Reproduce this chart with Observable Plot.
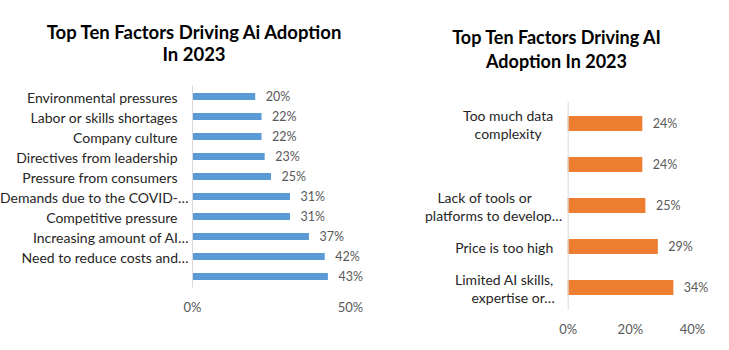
<!DOCTYPE html>
<html>
<head>
<meta charset="utf-8">
<script src="https://cdn.jsdelivr.net/npm/d3@7"></script>
<script src="https://cdn.jsdelivr.net/npm/@observablehq/plot@0.6"></script>
<style>
  html, body { margin: 0; padding: 0; background: #fff; }
  #wrap { position: relative; width: 729px; height: 350px; overflow: hidden; font-family: Lato, sans-serif; }
  .panel { position: absolute; top: 0; }
  .title { font-family: Lato, sans-serif; font-weight: bold; color: #000; text-align: center; white-space: nowrap; }
  .panel svg { display: block; }
</style>
</head>
<body>
<div id="wrap">
  <div class="panel" id="left" style="left:0;width:370px;">
    <div class="title" style="padding-top:21px;font-size:18.5px;line-height:22.3px;height:44.6px;padding-left:18px;">Top Ten Factors Driving Ai Adoption<br>In 2023</div>
  </div>
  <div class="panel" id="right" style="left:370px;width:359px;">
    <div class="title" style="padding-top:24.5px;font-size:18px;line-height:24.3px;height:48.6px;padding-left:14px;">Top Ten Factors Driving AI<br>Adoption In 2023</div>
  </div>
</div>
<script>
// ---- Data ----
const leftLabels = [
  "Environmental pressures",
  "Labor or skills shortages",
  "Company culture",
  "Directives from leadership",
  "Pressure from consumers",
  "Demands due to the COVID-…",
  "Competitive pressure",
  "Increasing amount of AI…",
  "Need to reduce costs and…",
  ""
];
const leftValues = [0.20, 0.22, 0.22, 0.23, 0.25, 0.31, 0.31, 0.37, 0.42, 0.43];
const leftTicks = [0, 0.5];

const rightLabels = [
  "Too much data\ncomplexity",
  "",
  "Lack of tools or\nplatforms to develop…",
  "Price is too high",
  "Limited AI skills,\nexpertise or…"
];
const rightValues = [0.24, 0.24, 0.25, 0.29, 0.34];
const rightTicks = [0, 0.2, 0.4];

const pct = d3.format(".0%");
const isTrunc = d => d.label.endsWith("…");

function build(labels, values, ticks, opts) {
  const data = labels.map((label, i) => ({i, label, value: values[i]}));
  return Plot.plot({
    width: opts.width,
    height: opts.height,
    marginLeft: opts.marginLeft,
    marginRight: opts.marginRight,
    marginTop: opts.marginTop,
    marginBottom: opts.marginBottom,
    style: {fontFamily: "Lato, sans-serif", fontSize: "13px", color: "#262626", background: "white"},
    x: {domain: opts.xDomain, label: null},
    y: {domain: d3.range(labels.length), paddingInner: 0.64, paddingOuter: 0.32, axis: null},
    marks: [
      Plot.barX(data, {x: "value", y: "i", fill: opts.color}),
      Plot.ruleX([0], {stroke: "#d9d9d9", strokeWidth: 1}),
      Plot.text(data, {x: "value", y: "i", text: d => pct(d.value), dx: 10, textAnchor: "start", fill: "#595959", fontSize: 12.5}),
      Plot.text(data.filter(d => !isTrunc(d)), {y: "i", text: "label", frameAnchor: "left", textAnchor: "end", dx: opts.labelDx, lineHeight: 1.34, fill: "#262626", fontSize: 14}),
      Plot.text(data.filter(isTrunc), {y: "i", text: "label", frameAnchor: "left", textAnchor: "end", dx: opts.truncDx, lineHeight: 1.34, fill: "#262626", fontSize: 14}),
      Plot.axisX({ticks, tickFormat: pct, tickSize: 0, tickPadding: 14.5, fill: "#595959", fontSize: 13, label: null})
    ]
  });
}

const leftChart = build(leftLabels, leftValues, leftTicks, {
  width: 370, height: 285, marginLeft: 192, marginRight: 20, marginTop: 19.6, marginBottom: 63.6,
  xDomain: [0, 0.5], color: "#5B9BD5", labelDx: -15, truncDx: -4
});
document.getElementById("left").appendChild(leftChart);

const rightChart = build(rightLabels, rightValues, rightTicks, {
  width: 359, height: 277, marginLeft: 197.7, marginRight: 37, marginTop: 28.7, marginBottom: 40.2,
  xDomain: [0, 0.4], color: "#ED7D31", labelDx: -15, truncDx: -15
});
document.getElementById("right").appendChild(rightChart);

// Center multi-line category labels within their block (Excel style),
// nudging ellipsis-truncated lines slightly toward the axis.
rightChart.querySelectorAll("text").forEach(t => {
  const spans = Array.from(t.querySelectorAll("tspan"));
  if (spans.length < 2) return;
  const widths = spans.map(s => s.getComputedTextLength());
  const w = Math.max(...widths);
  spans.forEach((s, k) => {
    const base = parseFloat(s.getAttribute("x")) || 0;
    const shift = -(w - widths[k]) / 2 + (s.textContent.endsWith("…") ? 9 : 0);
    s.setAttribute("x", base + shift);
  });
});
</script>
</body>
</html>
